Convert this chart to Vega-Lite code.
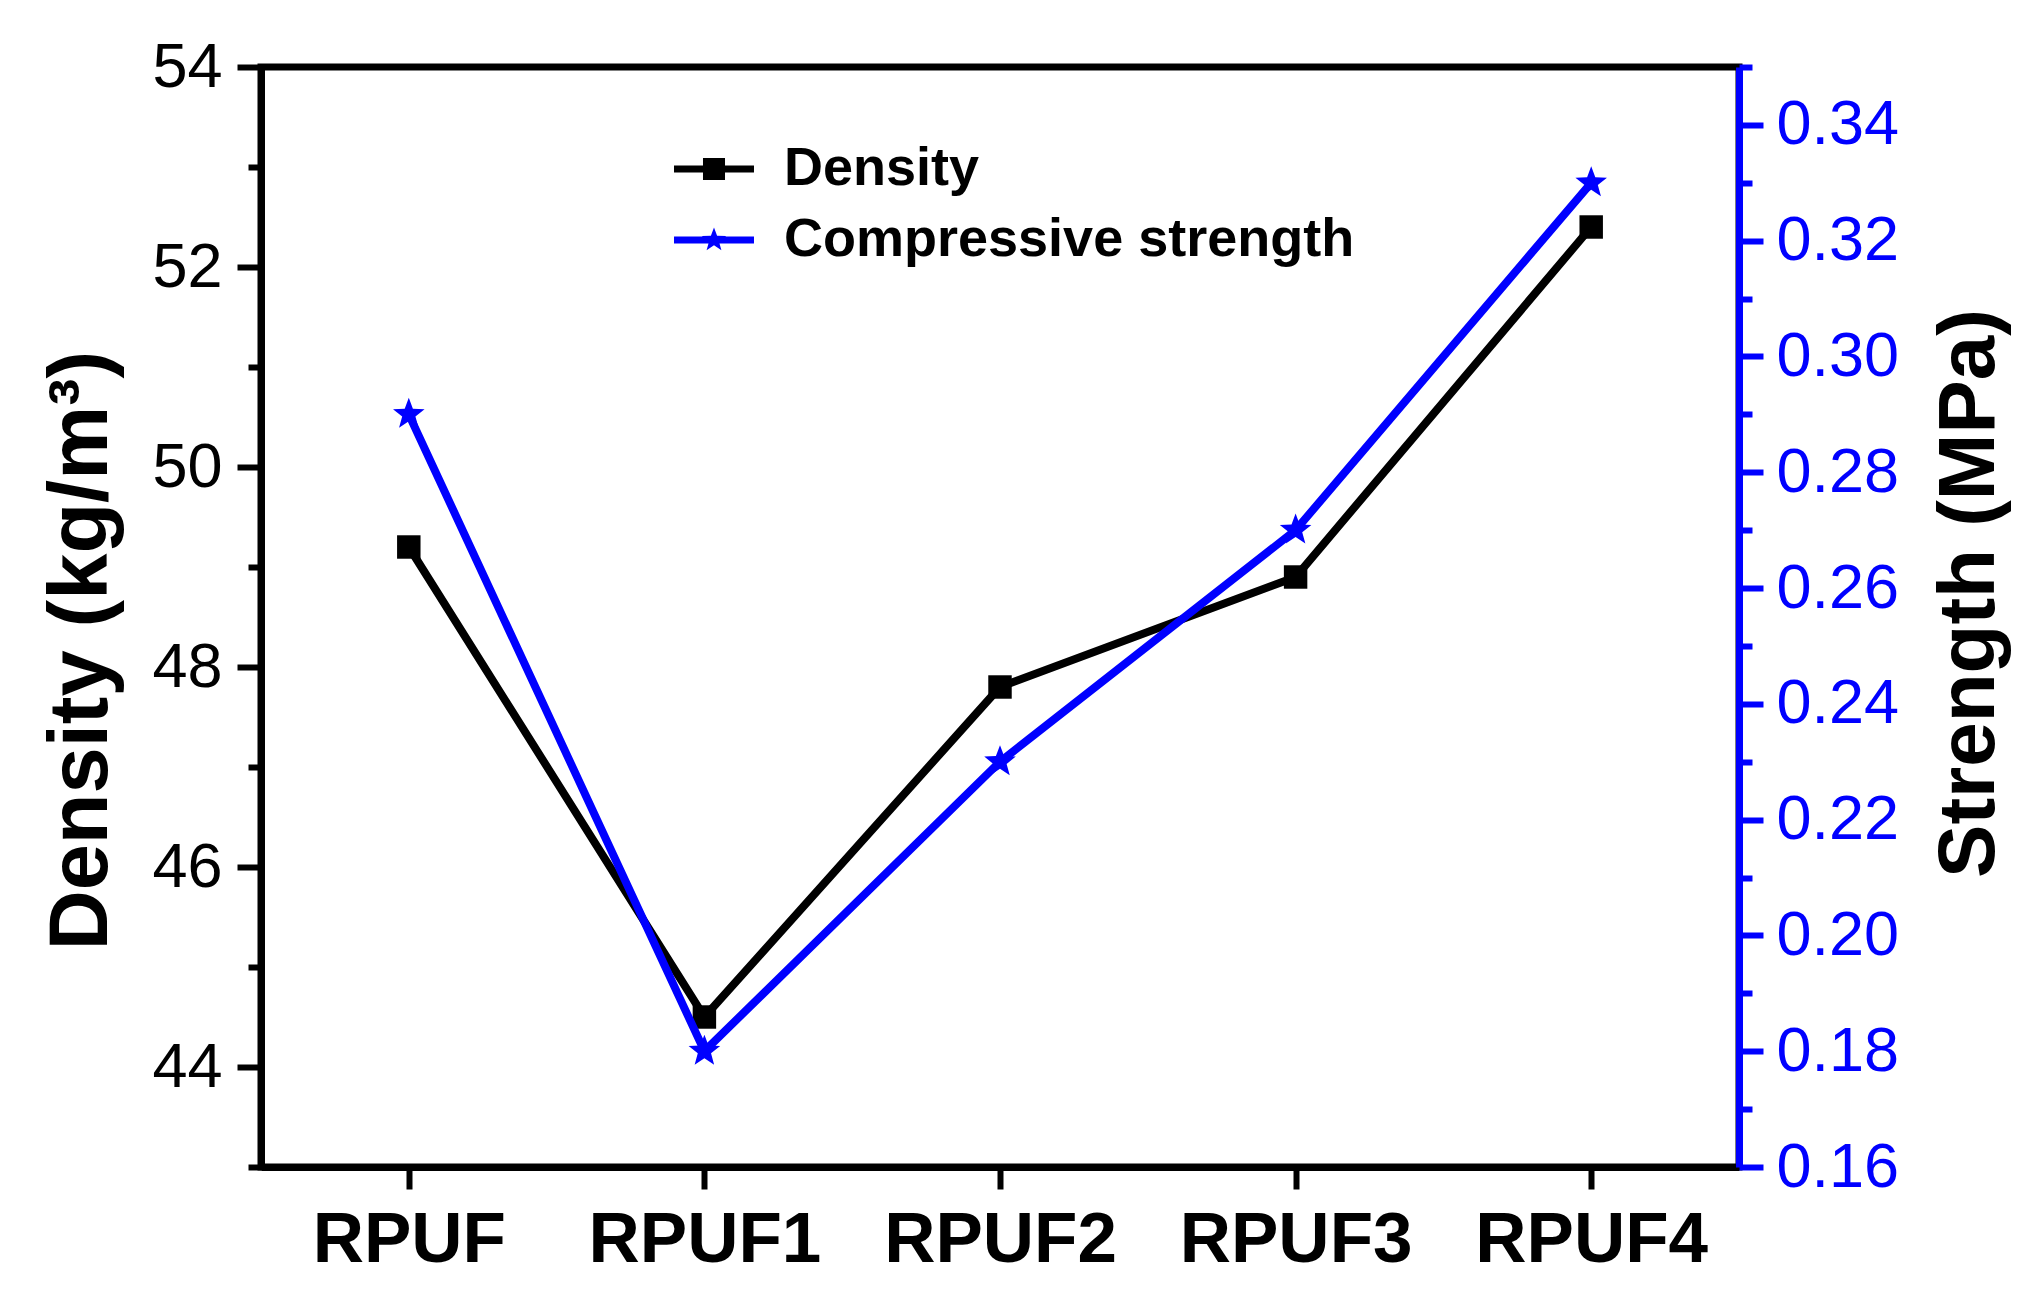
{
  "$schema": "https://vega.github.io/schema/vega-lite/v6.json",
  "width": 1478,
  "height": 1100,
  "autosize": {"type": "none"},
  "padding": {"left": 261, "top": 67, "right": 294, "bottom": 135},
  "background": "white",
  "config": {
    "view": {"stroke": "black", "strokeWidth": 7},
    "font": "Liberation Sans",
    "axis": {"grid": false, "labelFont": "Liberation Sans", "titleFont": "Liberation Sans", "labelLimit": 0, "titleLimit": 0}
  },
  "data": {
    "values": [
      {"sample": "RPUF", "series": "Density", "value": 49.2},
      {"sample": "RPUF1", "series": "Density", "value": 44.5},
      {"sample": "RPUF2", "series": "Density", "value": 47.8},
      {"sample": "RPUF3", "series": "Density", "value": 48.9},
      {"sample": "RPUF4", "series": "Density", "value": 52.4},
      {"sample": "RPUF", "series": "Compressive strength", "value": 0.29},
      {"sample": "RPUF1", "series": "Compressive strength", "value": 0.18},
      {"sample": "RPUF2", "series": "Compressive strength", "value": 0.23},
      {"sample": "RPUF3", "series": "Compressive strength", "value": 0.27},
      {"sample": "RPUF4", "series": "Compressive strength", "value": 0.33}
    ]
  },
  "layer": [
    {
      "transform": [{"filter": "datum.series === 'Density'"}],
      "encoding": {
        "x": {
          "field": "sample", "type": "nominal", "sort": ["RPUF", "RPUF1", "RPUF2", "RPUF3", "RPUF4"],
          "scale": {"type": "point", "padding": 0.5},
          "axis": {
            "title": null, "labelAngle": 0, "labelFontSize": 71, "labelFontWeight": "bold", "labelColor": "black",
            "labelPadding": 16, "tickSize": 22, "tickWidth": 6, "tickColor": "black",
            "domainColor": "black", "domainWidth": 7, "labelLimit": 0
          }
        },
        "y": {
          "field": "value", "type": "quantitative",
          "scale": {"domain": [43, 54], "nice": false, "zero": false},
          "axis": {
            "orient": "left",
            "title": "Density (kg/m³)",
            "titleFontSize": 83, "titleFontWeight": "bold", "titleColor": "black",
            "titleAngle": 270, "titleBaseline": "alphabetic", "titleAlign": "center",
            "titleX": -155, "titleY": 583,
            "values": [43, 44, 45, 46, 47, 48, 49, 50, 51, 52, 53, 54],
            "labelExpr": "datum.value % 2 === 0 ? datum.label : ''",
            "labelOverlap": false,
            "labelFontSize": 63, "labelColor": "black", "labelPadding": 15,
            "tickSize": {"condition": {"test": "datum.value % 2 === 0", "value": 24}, "value": 13},
            "tickWidth": 6, "tickColor": "black",
            "domainColor": "black", "domainWidth": 7
          }
        }
      },
      "layer": [
        {"mark": {"type": "line", "color": "black", "strokeWidth": 8}},
        {
          "mark": {"type": "point", "shape": "square", "filled": true, "size": 550, "opacity": 1},
          "encoding": {
            "color": {
              "field": "series", "type": "nominal",
              "scale": {"domain": ["Density"], "range": ["#000000"]},
              "legend": {
                "title": null, "orient": "none", "legendX": 423, "legendY": 72,
                "padding": 0, "offset": 0,
                "symbolType": "M-1.333,-0.117H1.333V0.117H-1.333Z M-0.367,-0.367H0.367V0.367H-0.367Z",
                "symbolSize": 3600, "symbolFillColor": "#000000", "symbolStrokeWidth": 0, "symbolOpacity": 1,
                "labelOffset": 40,
                "labelFont": "Liberation Sans", "labelFontSize": 54, "labelFontWeight": "bold", "labelColor": "black",
                "labelLimit": 0
              }
            }
          }
        }
      ]
    },
    {
      "transform": [{"filter": "datum.series === 'Compressive strength'"}],
      "encoding": {
        "x": {
          "field": "sample", "type": "nominal", "sort": ["RPUF", "RPUF1", "RPUF2", "RPUF3", "RPUF4"],
          "scale": {"type": "point", "padding": 0.5},
          "axis": {
            "title": null, "labelAngle": 0, "labelFontSize": 71, "labelFontWeight": "bold", "labelColor": "black",
            "labelPadding": 16, "tickSize": 22, "tickWidth": 6, "tickColor": "black",
            "domainColor": "black", "domainWidth": 7, "labelLimit": 0
          }
        },
        "y": {
          "field": "value", "type": "quantitative",
          "scale": {"domain": [0.16, 0.35], "nice": false, "zero": false},
          "axis": {
            "orient": "right",
            "title": "Strength (MPa)",
            "titleFontSize": 80, "titleFontWeight": "bold", "titleColor": "black",
            "titleAngle": 270, "titleBaseline": "alphabetic", "titleAlign": "center",
            "titleX": 254, "titleY": 526,
            "values": [0.16, 0.17, 0.18, 0.19, 0.2, 0.21, 0.22, 0.23, 0.24, 0.25, 0.26, 0.27, 0.28, 0.29, 0.3, 0.31, 0.32, 0.33, 0.34, 0.35],
            "format": ".2f",
            "labelExpr": "round(datum.value * 100) % 2 === 0 ? datum.label : ''",
            "labelOverlap": false,
            "labelFontSize": 63, "labelColor": "#0000ff", "labelPadding": 13,
            "tickSize": {"condition": {"test": "round(datum.value * 100) % 2 === 0", "value": 24}, "value": 13},
            "tickWidth": 6, "tickColor": "#0000ff",
            "domainColor": "#0000ff", "domainWidth": 7
          }
        }
      },
      "layer": [
        {"mark": {"type": "line", "color": "#0000ff", "strokeWidth": 8}},
        {
          "mark": {"type": "point", "shape": "M0,-1L0.2469,-0.3398L0.9511,-0.309L0.3995,0.1298L0.5878,0.809L0,0.42L-0.5878,0.809L-0.3995,0.1298L-0.9511,-0.309L-0.2469,-0.3398Z", "filled": true, "size": 1100, "opacity": 1},
          "encoding": {
            "fill": {
              "field": "series", "type": "nominal",
              "scale": {"domain": ["Compressive strength"], "range": ["#0000ff"]},
              "legend": {
                "title": null, "orient": "none", "legendX": 423, "legendY": 143,
                "padding": 0, "offset": 0,
                "symbolType": "M-1.333,-0.117H1.333V0.117H-1.333Z M0,-0.42L0.1035,-0.1424L0.3995,-0.1298L0.1674,0.0544L0.2469,0.3398L0,0.176L-0.2469,0.3398L-0.1674,0.0544L-0.3995,-0.1298L-0.1035,-0.1424Z",
                "symbolSize": 3600, "symbolFillColor": "#0000ff", "symbolStrokeWidth": 0, "symbolOpacity": 1,
                "labelOffset": 40,
                "labelFont": "Liberation Sans", "labelFontSize": 54, "labelFontWeight": "bold", "labelColor": "black",
                "labelLimit": 0
              }
            }
          }
        }
      ]
    }
  ],
  "resolve": {"scale": {"y": "independent"}}
}
